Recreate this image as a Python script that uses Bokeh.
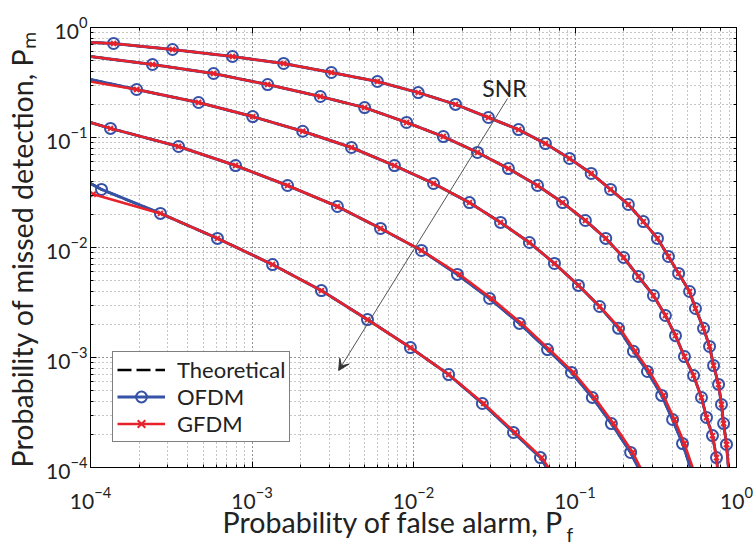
import numpy as np
from bokeh.plotting import figure
from bokeh.models import (LogAxis, CustomJSTickFormatter, Legend, LegendItem,
                          Label, Arrow, VeeHead, Range1d, Title)
from bokeh.embed import file_html
from bokeh.resources import INLINE

# ---------------- data ----------------
X_LIM = (1e-4, 1.0)
Y_LIM = (1e-4, 1.0)

# five ROC curves, SNR increasing from curve 1 (top) to curve 5 (bottom)
ofdm_pf_1 = [1.00e-4, 1.39e-4, 3.22e-4, 7.57e-4, 1.57e-3, 3.10e-3, 5.98e-3, 1.07e-2, 1.82e-2,
             2.91e-2, 4.47e-2, 6.56e-2, 9.25e-2, 0.126, 0.166, 0.214, 0.265, 0.324, 0.379,
             0.438, 0.512, 0.557, 0.625, 0.681, 0.721, 0.774, 0.807, 0.832, 0.867, 0.891]
ofdm_pm_1 = [0.731, 0.716, 0.631, 0.545, 0.471, 0.390, 0.323, 0.256, 0.200, 0.152, 0.118,
             0.0881, 0.0644, 0.0471, 0.0337, 0.0246, 0.0172, 0.0121, 8.28e-3, 5.81e-3,
             3.98e-3, 2.79e-3, 1.84e-3, 1.26e-3, 8.45e-4, 5.69e-4, 3.74e-4, 2.51e-4,
             1.62e-4, 1.00e-4]

ofdm_pf_2 = [1.00e-4, 2.42e-4, 5.78e-4, 1.25e-3, 2.65e-3, 4.98e-3, 9.06e-3, 1.53e-2, 2.49e-2,
             3.87e-2, 5.86e-2, 8.37e-2, 0.116, 0.155, 0.200, 0.247, 0.306, 0.363, 0.419,
             0.476, 0.542, 0.607, 0.652, 0.710, 0.752, 0.762]
ofdm_pm_2 = [0.545, 0.461, 0.382, 0.303, 0.236, 0.187, 0.137, 0.102, 0.0731, 0.0522, 0.0366,
             0.0256, 0.0176, 0.0121, 8.11e-3, 5.45e-3, 3.66e-3, 2.41e-3, 1.58e-3, 1.02e-3,
             6.86e-4, 4.33e-4, 2.85e-4, 1.95e-4, 1.23e-4, 1.00e-4]

ofdm_pf_3 = [1.00e-4, 1.93e-4, 4.67e-4, 1.01e-3, 2.06e-3, 4.13e-3, 7.62e-3, 1.33e-2, 2.22e-2,
             3.46e-2, 5.22e-2, 7.46e-2, 0.105, 0.142, 0.186, 0.230, 0.281, 0.344, 0.402,
             0.463, 0.519]
ofdm_pm_3 = [0.337, 0.273, 0.208, 0.155, 0.114, 0.0811, 0.0556, 0.0382, 0.0256, 0.0169,
             0.0111, 7.16e-3, 4.52e-3, 2.91e-3, 1.84e-3, 1.14e-3, 7.46e-4, 4.52e-4, 2.73e-4,
             1.65e-4, 1.00e-4]

ofdm_pf_4 = [1.00e-4, 1.33e-4, 3.51e-4, 7.91e-4, 1.66e-3, 3.38e-3, 6.25e-3, 1.12e-2, 1.87e-2,
             2.96e-2, 4.53e-2, 6.76e-2, 9.51e-2, 0.128, 0.168, 0.221, 0.246]
ofdm_pm_4 = [0.137, 0.121, 0.0828, 0.0556, 0.0366, 0.0236, 0.0149, 9.40e-3, 5.69e-3, 3.44e-3,
             2.04e-3, 1.18e-3, 7.31e-4, 4.33e-4, 2.51e-4, 1.37e-4, 1.00e-4]

ofdm_pf_5 = [1.00e-4, 1.17e-4, 2.71e-4, 6.11e-4, 1.34e-3, 2.69e-3, 5.19e-3, 9.57e-3, 1.65e-2,
             2.67e-2, 4.16e-2, 6.11e-2, 6.67e-2]
ofdm_pm_5 = [0.0382, 0.0337, 0.0204, 0.0121, 7.00e-3, 4.06e-3, 2.21e-3, 1.23e-3, 7.00e-4,
             3.82e-4, 2.08e-4, 1.23e-4, 1.00e-4]

gfdm_pf_1 = list(ofdm_pf_1)
gfdm_pm_1 = list(ofdm_pm_1)
gfdm_pf_2 = list(ofdm_pf_2)
gfdm_pm_2 = list(ofdm_pm_2)

gfdm_pf_3 = [1.00e-4, 1.93e-4, 4.67e-4, 1.01e-3, 2.06e-3, 4.13e-3, 7.62e-3, 1.33e-2, 2.22e-2,
             3.46e-2, 5.22e-2, 7.46e-2, 0.105, 0.142, 0.190, 0.236, 0.289, 0.353, 0.413,
             0.476, 0.535]
gfdm_pm_3 = [0.322, 0.273, 0.208, 0.155, 0.114, 0.0811, 0.0556, 0.0382, 0.0256, 0.0169,
             0.0111, 7.16e-3, 4.52e-3, 2.91e-3, 1.84e-3, 1.14e-3, 7.46e-4, 4.52e-4, 2.73e-4,
             1.65e-4, 1.00e-4]

gfdm_pf_4 = [1.00e-4, 1.33e-4, 3.51e-4, 7.91e-4, 1.66e-3, 3.38e-3, 6.25e-3, 1.12e-2, 1.93e-2,
             3.05e-2, 4.67e-2, 6.96e-2, 9.80e-2, 0.132, 0.173, 0.228, 0.254]
gfdm_pm_4 = list(ofdm_pm_4)

gfdm_pf_5 = [1.04e-4, 2.71e-4, 6.11e-4, 1.34e-3, 2.69e-3, 5.19e-3, 9.57e-3, 1.65e-2,
             2.72e-2, 4.25e-2, 6.23e-2, 6.85e-2]
gfdm_pm_5 = [0.0305, 0.0204, 0.0121, 7.00e-3, 4.06e-3, 2.21e-3, 1.23e-3, 7.00e-4,
             3.82e-4, 2.08e-4, 1.23e-4, 1.00e-4]

ofdm = [(ofdm_pf_1, ofdm_pm_1), (ofdm_pf_2, ofdm_pm_2), (ofdm_pf_3, ofdm_pm_3),
        (ofdm_pf_4, ofdm_pm_4), (ofdm_pf_5, ofdm_pm_5)]
gfdm = [(gfdm_pf_1, gfdm_pm_1), (gfdm_pf_2, gfdm_pm_2), (gfdm_pf_3, gfdm_pm_3),
        (gfdm_pf_4, gfdm_pm_4), (gfdm_pf_5, gfdm_pm_5)]
theory = ofdm  # theoretical curves coincide with the simulated ones

legend_labels = ["Theoretical", "OFDM", "GFDM"]
x_title = "Probability of false alarm, P"
x_title_sub = "f"
y_title = "Probability of missed detection, P\u2098"
arrow_label = "SNR"

# ---------------- styles ----------------
FONT = "Lato"
TXT = "#222222"
BLUE = "#3552a6"
RED = "#e8222a"

p = figure(width=753, height=545, x_axis_type="log", y_axis_type="log",
           x_range=Range1d(*X_LIM), y_range=Range1d(*Y_LIM),
           output_backend="svg", toolbar_location=None,
           min_border_left=90, min_border_right=17, min_border_top=27, min_border_bottom=78)
p.background_fill_color = "white"
p.border_fill_color = "white"
p.outline_line_color = "black"
p.outline_line_width = 1

for ax in (p.xaxis[0], p.yaxis[0]):
    ax.major_label_text_font = FONT
    ax.major_label_text_font_size = "21px"
    ax.major_label_text_color = TXT
    ax.major_tick_in = 6
    ax.major_tick_out = 0
    ax.minor_tick_in = 3
    ax.minor_tick_out = 0
    ax.axis_line_color = "black"
    ax.major_tick_line_color = "black"
    ax.minor_tick_line_color = "black"
p.xaxis[0].major_label_standoff = 19
p.yaxis[0].major_label_standoff = 3

for loc in ("right", "above"):
    ax = LogAxis(formatter=CustomJSTickFormatter(code="return ''"),
                 major_tick_in=6, major_tick_out=0, minor_tick_in=3, minor_tick_out=0,
                 major_label_text_font_size="1px", major_label_standoff=0)
    p.add_layout(ax, loc)

for g in (p.xgrid[0], p.ygrid[0]):
    g.grid_line_color = "#808080"
    g.grid_line_dash = "1 3"
    g.grid_line_width = 1
    g.minor_grid_line_color = "#8c8c8c"
    g.minor_grid_line_dash = "1 3"
    g.minor_grid_line_width = 1


def inside(pf, pm):
    pf = np.asarray(pf); pm = np.asarray(pm)
    m = (pf > X_LIM[0]) & (pm > Y_LIM[0])
    return pf[m], pm[m]


theory_r = []
for pf, pm in theory:
    theory_r.append(p.line(pf, pm, line_color="black", line_dash="14 5", line_width=2.5))

ofdm_l, ofdm_s = [], []
for pf, pm in ofdm:
    ofdm_l.append(p.line(pf, pm, line_color=BLUE, line_width=3))
    mx, my = inside(pf, pm)
    ofdm_s.append(p.scatter(mx, my, marker="circle", size=11, fill_color=None,
                            line_color=BLUE, line_width=2))

gfdm_l, gfdm_s = [], []
for pf, pm in gfdm:
    gfdm_l.append(p.line(pf, pm, line_color=RED, line_width=2.5))
    mx, my = inside(pf, pm)
    gfdm_s.append(p.scatter(mx, my, marker="x", size=7, line_color=RED, line_width=2))

legend = Legend(items=[
    LegendItem(label=legend_labels[0], renderers=[theory_r[0]]),
    LegendItem(label=legend_labels[1], renderers=[ofdm_l[0], ofdm_s[0]]),
    LegendItem(label=legend_labels[2], renderers=[gfdm_l[0], gfdm_s[0]]),
], location=(22, 25))
legend.label_text_font = FONT
legend.label_text_font_size = "22px"
legend.label_text_color = TXT
legend.glyph_width = 48
legend.glyph_height = 27
legend.label_height = 27
legend.spacing = 0
legend.padding = 4
legend.margin = 0
legend.label_standoff = 12
legend.border_line_color = "black"
legend.border_line_width = 1
legend.background_fill_alpha = 1
p.add_layout(legend, "center")

# SNR arrow
p.add_layout(Arrow(end=VeeHead(size=11, fill_color="#333333", line_color="#333333"),
                   x_start=0.0382, y_start=0.226, x_end=3.44e-3, y_end=7.62e-4,
                   line_color="#555555", line_width=1))
p.add_layout(Label(x=0.0366, y=0.279, text=arrow_label, text_align="center",
                   text_baseline="alphabetic", text_font=FONT, text_font_size="23px",
                   text_color=TXT))

# axis titles, as titles in the side panels
tkw = dict(text_font=FONT, text_color=TXT, text_font_style="normal", align="left",
           vertical_align="middle")
p.add_layout(Title(text=x_title, offset=132, standoff=-15.5,
                   text_font_size="28.6px", **tkw), "below")
p.add_layout(Title(text=x_title_sub, offset=476, standoff=-22,
                   text_font_size="19px", **tkw), "below")
p.add_layout(Title(text=y_title, offset=0, standoff=6.6,
                   text_font_size="28.6px", **tkw), "left")

open("out.html", "w").write(file_html(p, INLINE))
